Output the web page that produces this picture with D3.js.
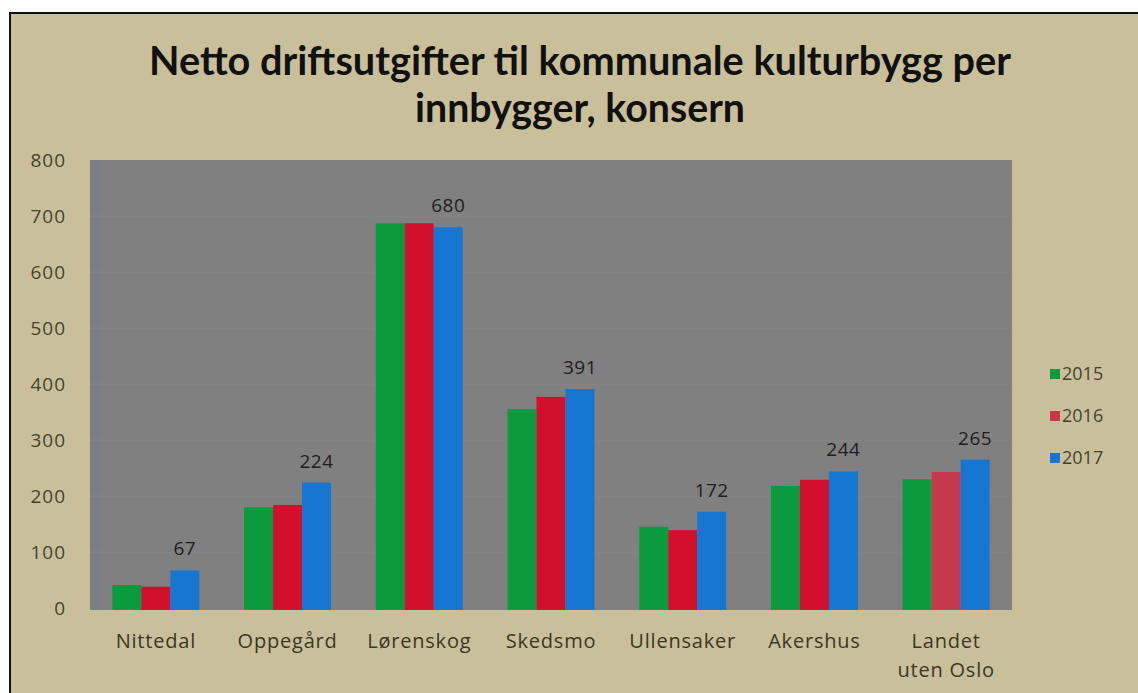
<!DOCTYPE html>
<html>
<head>
<meta charset="utf-8">
<script src="https://cdn.jsdelivr.net/npm/d3@7"></script>
<style>
  html, body { margin: 0; padding: 0; background: #fff; overflow: hidden; }
  svg { display: block; }
</style>
</head>
<body>
<script>
  const width = 1138
  const height = 693
  const categories = [['Nittedal'], ['Oppegård'], ['Lørenskog'], ['Skedsmo'], ['Ullensaker'], ['Akershus'], ['Landet', 'uten Oslo']]
  const years = ['2015', '2016', '2017']
  const values2015 = [41, 180, 687, 355, 145, 218, 230]
  const values2016 = [38, 184, 687, 377, 139, 229, 243]
  const values2017 = [67, 224, 680, 391, 172, 244, 265]
  const yTicks = [0, 100, 200, 300, 400, 500, 600, 700, 800]
  const titleLines = ['Netto driftsutgifter til kommunale kulturbygg per', 'innbygger, konsern']

  const colors = ['#0b9a3d', '#d2102d', '#1677d3']
  const series = [values2015, values2016, values2017]

  const plot = { left: 90, right: 1012, top: 160, bottom: 608 }

  const svg = d3.select('body')
    .append('svg')
    .attr('width', width)
    .attr('height', height)

  svg.append('rect')
    .attr('width', width)
    .attr('height', height)
    .attr('fill', '#fff')
  svg.append('rect')
    .attr('x', 10)
    .attr('y', 13)
    .attr('width', width + 20)
    .attr('height', height)
    .attr('fill', '#c9c09b')
    .attr('stroke', '#111')
    .attr('stroke-width', 2)

  // title
  svg.selectAll('text.title')
    .data(titleLines)
    .enter()
    .append('text')
    .attr('class', 'title')
    .attr('x', 580)
    .attr('y', function (d, i) { return 75 + i * 47 })
    .attr('text-anchor', 'middle')
    .attr('font-family', 'Lato, sans-serif')
    .attr('font-weight', 'bold')
    .attr('font-size', '40px')
    .attr('fill', '#111')
    .attr('textLength', function (d, i) { return i === 0 ? 862 : 330 })
    .attr('lengthAdjust', 'spacingAndGlyphs')
    .text(function (d) { return d })

  const x0 = d3.scaleBand()
    .domain(d3.range(categories.length))
    .range([plot.left, plot.right])
    .paddingInner(0.34)
    .paddingOuter(0.17)
  const x1 = d3.scaleBand()
    .domain(d3.range(years.length))
    .range([0, x0.bandwidth()])
  const yScale = d3.scaleLinear()
    .domain([0, 800])
    .range([plot.bottom, plot.top])

  // plot background
  svg.append('rect')
    .attr('x', plot.left)
    .attr('y', plot.top)
    .attr('width', plot.right - plot.left)
    .attr('height', plot.bottom - plot.top + 2)
    .attr('fill', '#808080')
  svg.append('rect')
    .attr('x', plot.left)
    .attr('y', plot.top)
    .attr('width', 10)
    .attr('height', plot.bottom - plot.top + 2)
    .attr('fill', '#7c7e86')

  svg.selectAll('line.grid')
    .data(yTicks.slice(1, -1))
    .enter()
    .append('line')
    .attr('class', 'grid')
    .attr('x1', plot.left)
    .attr('x2', plot.right)
    .attr('y1', function (d) { return yScale(d) })
    .attr('y2', function (d) { return yScale(d) })
    .attr('stroke', '#858585')
    .attr('stroke-width', 1)

  // y axis
  const yAxis = d3.axisLeft(yScale)
    .tickValues(yTicks)
    .tickSize(0)
    .tickPadding(0)
  const yG = svg.append('g')
    .attr('transform', 'translate(66, 0)')
    .call(yAxis)
  yG.select('.domain').remove()
  yG.selectAll('text')
    .attr('font-family', '"Open Sans", sans-serif')
    .attr('font-size', '19px')
    .attr('letter-spacing', '1px')
    .attr('fill', '#45422e')
    .attr('dy', '0.35em')

  // bars
  const groups = svg.selectAll('g.group')
    .data(categories)
    .enter()
    .append('g')
    .attr('class', 'group')
    .attr('transform', function (d, i) { return `translate(${x0(i)}, 0)` })

  groups.selectAll('rect')
    .data(function (d, i) { return series.map(function (s, k) { return { k: k, v: s[i], cat: i } }) })
    .enter()
    .append('rect')
    .attr('x', function (d) { return x1(d.k) })
    .attr('y', function (d) { return yScale(d.v) })
    .attr('width', x1.bandwidth())
    .attr('height', function (d) { return plot.bottom + 2 - yScale(d.v) })
    .attr('fill', function (d) {
      // last 2016 bar is a duller red in the original
      if (d.k === 1 && d.cat === categories.length - 1) return '#c23a4c'
      return colors[d.k]
    })

  // value labels on 2017 bars
  groups.append('text')
    .attr('x', function (d, i) { return x1(2) + x1.bandwidth() / 2 })
    .attr('y', function (d, i) { return yScale(values2017[i]) - 15 })
    .attr('text-anchor', 'middle')
    .attr('font-family', '"Open Sans", sans-serif')
    .attr('font-size', '19px')
    .attr('letter-spacing', '0.5px')
    .attr('fill', '#1e1e1e')
    .text(function (d, i) { return values2017[i] })

  // category labels
  const catText = groups.append('text')
    .attr('x', x0.bandwidth() / 2)
    .attr('y', 648)
    .attr('text-anchor', 'middle')
    .attr('font-family', '"Open Sans", sans-serif')
    .attr('font-size', '20px')
    .attr('letter-spacing', '0.8px')
    .attr('fill', '#3a3725')
  catText.selectAll('tspan')
    .data(function (d) { return d })
    .enter()
    .append('tspan')
    .attr('x', x0.bandwidth() / 2)
    .attr('dy', function (d, i) { return i === 0 ? 0 : 29 })
    .text(function (d) { return d })

  // legend
  const legend = svg.selectAll('g.legend')
    .data(years)
    .enter()
    .append('g')
    .attr('class', 'legend')
    .attr('transform', function (d, i) { return `translate(1050, ${374 + i * 42})` })
  legend.append('rect')
    .attr('x', 0)
    .attr('y', -5)
    .attr('width', 10)
    .attr('height', 10)
    .attr('fill', function (d, i) { return i === 1 ? '#c93848' : colors[i] })
  legend.append('text')
    .attr('x', 12)
    .attr('y', 0)
    .attr('dy', '0.35em')
    .attr('font-family', '"Open Sans", sans-serif')
    .attr('font-size', '18px')
    .attr('fill', '#45422e')
    .text(function (d) { return d })
</script>
</body>
</html>
